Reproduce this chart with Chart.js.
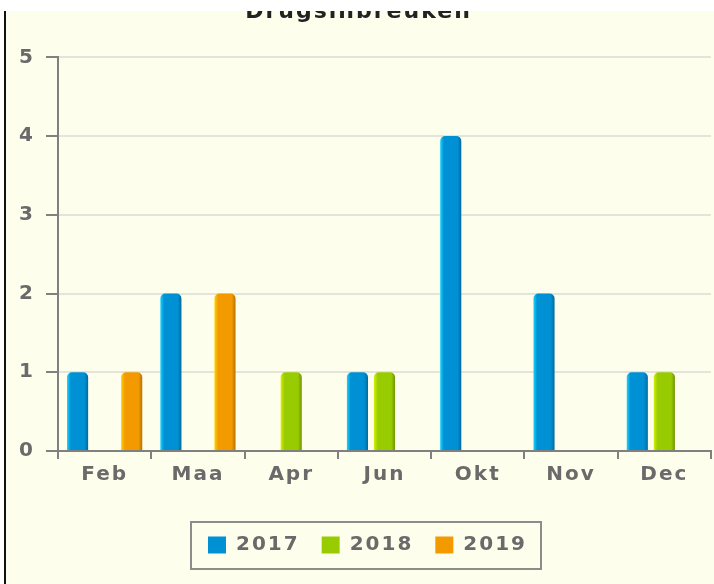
<!DOCTYPE html>
<html>
<head>
<meta charset="utf-8">
<script src="https://cdn.jsdelivr.net/npm/chart.js@4/dist/chart.umd.min.js"></script>
<style>
  body { margin: 0; background: #fff; }
  #kader {
    position: absolute; left: 4px; top: 11px; width: 708px; height: 573px;
    border-left: 2px solid #111; background: #fefeec; overflow: hidden;
  }
  #grafiek { position: absolute; left: 0; top: -20px; }
</style>
</head>
<body>
<div id="kader"><canvas id="grafiek" width="708" height="593"></canvas></div>
<script>
// maanden en aantallen per jaar
var maanden = ["Feb", "Maa", "Apr", "Jun", "Okt", "Nov", "Dec"];
var jaren = ["2017", "2018", "2019"];
var aantal2017 = [1, 2, 0, 1, 4, 2, 1];
var aantal2018 = [0, 0, 1, 1, 0, 0, 1];
var aantal2019 = [1, 2, 0, 0, 0, 0, 0];
var yTicks = [0, 1, 2, 3, 4, 5];

// kleuren: licht (links), vlak, donker (rechts)
var kleuren = [
  ["#19d2ff", "#0090d4", "#006a9e"],
  ["#d6f000", "#99cc00", "#6f9400"],
  ["#ffd200", "#f29a00", "#b87200"],
];

var catPct = 0.87, barPct = 0.78;

// verloop per staaf, links licht en rechts donker
function staafKleur(c) {
  var chart = c.chart, x = chart.scales && chart.scales.x;
  var k = kleuren[c.datasetIndex];
  if (!x || !chart.chartArea) return k[1];
  var breedte = (x.right - x.left) / maanden.length;
  var slot = breedte * catPct / jaren.length;
  var midden = x.getPixelForValue(c.dataIndex) + (c.datasetIndex - 1) * slot;
  var b = slot * barPct;
  var g = chart.ctx.createLinearGradient(midden - b / 2, 0, midden + b / 2, 0);
  g.addColorStop(0, k[0]);
  g.addColorStop(0.18, k[1]);
  g.addColorStop(0.82, k[1]);
  g.addColorStop(1, k[2]);
  return g;
}

var letterAfstand = {
  id: "letterAfstand",
  beforeUpdate: function (chart) { chart.ctx.letterSpacing = "2px"; },
  beforeDraw: function (chart) { chart.ctx.letterSpacing = "2px"; },
};

// legenda iets naar rechts, met een rand eromheen
var schuif = 9;
var legendaRand = {
  id: "legendaRand",
  afterLayout: function (chart) {
    var lg = chart.legend;
    lg.left += schuif;
    lg.right += schuif;
    (lg.legendHitBoxes || []).forEach(function (h) { h.left += schuif; });
  },
  afterDraw: function (chart) {
    var hb = chart.legend.legendHitBoxes;
    if (!hb || !hb.length) return;
    var eerste = hb[0], laatste = hb[hb.length - 1];
    var l = eerste.left - 17, r = laatste.left + laatste.width + 14;
    var t = eerste.top - 13, o = eerste.top + eerste.height + 14;
    var ctx = chart.ctx;
    ctx.save();
    ctx.strokeStyle = "#8c8c8c";
    ctx.lineWidth = 2;
    ctx.strokeRect(l, t, r - l, o - t);
    ctx.restore();
  },
};

var ctx = document.getElementById("grafiek").getContext("2d");

var sets = [aantal2017, aantal2018, aantal2019].map(function (d, i) {
  return {
    label: jaren[i],
    data: d,
    backgroundColor: staafKleur,
    borderWidth: 0,
    borderRadius: { topLeft: 5, topRight: 5, bottomLeft: 0, bottomRight: 0 },
    borderSkipped: false,
    categoryPercentage: catPct,
    barPercentage: barPct,
  };
});

new Chart(ctx, {
  type: "bar",
  data: { labels: maanden, datasets: sets },
  plugins: [letterAfstand, legendaRand],
  options: {
    responsive: false,
    animation: false,
    layout: { padding: { left: 0, right: 3, top: 0, bottom: 19 } },
    plugins: {
      title: {
        display: true,
        text: "Drugsinbreuken",
        color: "#222",
        font: { family: "DejaVu Sans", size: 22, weight: "bold" },
        padding: { top: 8, bottom: 32 },
      },
      legend: {
        position: "bottom",
        labels: {
          color: "#6a6a6a",
          font: { family: "DejaVu Sans", size: 20, weight: "bold" },
          boxWidth: 18,
          boxHeight: 17,
          padding: 22,
          generateLabels: function (chart) {
            return jaren.map(function (j, i) {
              return {
                text: j, fillStyle: kleuren[i][1], strokeStyle: kleuren[i][1],
                lineWidth: 0, datasetIndex: i, fontColor: "#6a6a6a",
              };
            });
          },
        },
      },
      tooltip: { enabled: false },
    },
    scales: {
      x: {
        offset: true,
        grid: {
          display: true, offset: true, drawOnChartArea: false,
          tickLength: 8, tickColor: "#808080", lineWidth: 2,
        },
        border: { display: true, color: "#808080", width: 2 },
        ticks: {
          color: "#6a6a6a", padding: 4,
          font: { family: "DejaVu Sans", size: 20, weight: "bold" },
        },
        afterFit: function (s) { s.height = 62; },
      },
      y: {
        min: 0, max: 5,
        grid: {
          color: "#e4e4dc", lineWidth: 2,
          tickLength: 12, tickColor: "#808080",
        },
        border: { display: true, color: "#808080", width: 2 },
        afterBuildTicks: function (s) {
          s.ticks = yTicks.map(function (v) { return { value: v }; });
        },
        ticks: {
          color: "#6a6a6a", padding: 11,
          font: { family: "DejaVu Sans", size: 20, weight: "bold" },
        },
        afterFit: function (s) { s.width = 52; },
      },
    },
  },
});
</script>
</body>
</html>
